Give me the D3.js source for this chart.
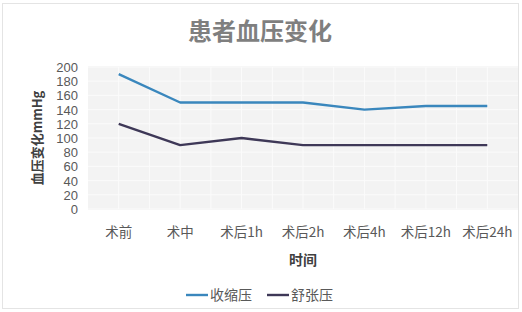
<!DOCTYPE html>
<html><head><meta charset="utf-8">
<script src="https://cdn.jsdelivr.net/npm/d3@7/dist/d3.min.js"></script>
<style>html,body{margin:0;padding:0;background:#fff;}svg{display:block;}</style>
</head><body>
<svg id="chart" width="522" height="312"></svg>
<script>
const categories = ["术前","术中","术后1h","术后2h","术后4h","术后12h","术后24h"];
const systolic = [190,150,150,150,140,145,145];
const diastolic = [120,90,100,90,90,90,90];
const yTicks = [0,20,40,60,80,100,120,140,160,180,200];
const seriesNames = ["收缩压","舒张压"];
const seriesColors = ["#3a87bd","#3e3857"];

(function(){
const svg = d3.select("#chart");
const font = "'Noto Sans CJK SC', 'Liberation Sans', sans-serif";

svg.append("rect").attr("x",2.5).attr("y",3.5).attr("width",516).attr("height",305)
  .attr("fill","#fff").attr("stroke","#e4e4e4");

const pL = 88, pR = 518, pT = 67, pB = 209;
const x = d3.scaleBand().domain(categories).range([pL,pR]).paddingInner(0).paddingOuter(0);
const y = d3.scaleLinear().domain([0,200]).range([pB,pT]);

svg.append("rect").attr("x",pL).attr("y",pT-1).attr("width",pR-pL).attr("height",pB-pT+2)
  .attr("fill","#f3f3f3");

const g = svg.append("g");
yTicks.forEach(t=>{
  g.append("line").attr("x1",pL).attr("x2",pR).attr("y1",y(t)).attr("y2",y(t))
   .attr("stroke","#fbfbfb").attr("stroke-width",1);
});
categories.forEach(c=>{
  const cx = x(c)+x.bandwidth()/2;
  [x(c), cx].forEach(v=>{
    if (v>pL+1) g.append("line").attr("x1",v).attr("x2",v).attr("y1",pT).attr("y2",pB)
      .attr("stroke","#fbfbfb").attr("stroke-width",1);
  });
});

svg.append("text").attr("x",260).attr("y",40).attr("text-anchor","middle")
  .attr("font-family",font).attr("font-weight","bold").attr("font-size",24)
  .attr("fill","#7f7f7f").text("患者血压变化");

const yAxis = d3.axisLeft(y).tickValues(yTicks).tickSize(0).tickPadding(0);
const ya = svg.append("g").attr("transform",`translate(78,0)`).call(yAxis);
ya.select(".domain").remove();
ya.selectAll("text").attr("font-family","'Liberation Sans', Arial, sans-serif").attr("font-size",13)
  .attr("fill","#595959").attr("dy","0.35em");

const xAxis = d3.axisBottom(x).tickSize(0).tickPadding(0);
const xa = svg.append("g").attr("transform",`translate(0,226)`).call(xAxis);
xa.select(".domain").remove();
xa.selectAll("text").attr("font-family",font).attr("font-size",13.5)
  .attr("fill","#595959").attr("dy","0.35em").attr("y",6);

svg.append("text").attr("transform","translate(42,138) rotate(-90)").attr("text-anchor","middle")
  .attr("font-family",font).attr("font-weight","bold").attr("font-size",13)
  .attr("fill","#404040").text("血压变化mmHg");
svg.append("text").attr("x",303).attr("y",265).attr("text-anchor","middle")
  .attr("font-family",font).attr("font-weight","bold").attr("font-size",14)
  .attr("fill","#404040").text("时间");

const line = d3.line().x((d,i)=>x(categories[i])+x.bandwidth()/2).y(d=>y(d));
[systolic, diastolic].forEach((s,i)=>{
  svg.append("path").datum(s).attr("d",line).attr("fill","none")
    .attr("stroke",seriesColors[i]).attr("stroke-width",2.4).attr("stroke-linejoin","round");
});

const legendX = [186, 267];
seriesNames.forEach((n,i)=>{
  svg.append("line").attr("x1",legendX[i]).attr("x2",legendX[i]+22).attr("y1",295).attr("y2",295)
    .attr("stroke",seriesColors[i]).attr("stroke-width",2.4);
  svg.append("text").attr("x",legendX[i]+24).attr("y",295).attr("dy","0.35em")
    .attr("font-family",font).attr("font-size",14).attr("fill","#595959").text(n);
});
})();
</script>
</body></html>
